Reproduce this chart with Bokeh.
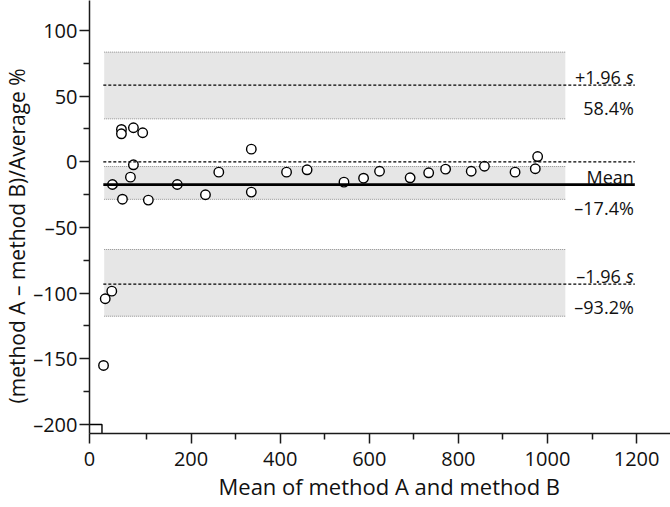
from bokeh.plotting import figure
from bokeh.models import FixedTicker, Range1d, Title
from bokeh.core.properties import value
from bokeh.embed import file_html
from bokeh.resources import INLINE

# ---- data ----
mean_ab = [3.5, 7.3, 22.0, 23.6, 43.7, 43.7, 46.0, 63.9, 70.6, 70.6,
           91.4, 104.1, 169.0, 232.3, 262.2, 335.2, 335.2, 414.3, 460.4, 543.2,
           587.2, 623.0, 691.7, 733.3, 771.3, 828.8, 858.5, 927.2, 972.6, 977.9]
pct_diff = [-155.1, -104.3, -98.5, -17.3, 24.6, 21.3, -28.5, -11.7, 25.9, -2.3,
            22.1, -29.2, -17.3, -25.1, -7.9, 9.6, -23.1, -7.9, -6.1, -15.5,
            -12.5, -7.2, -12.2, -8.4, -5.6, -7.2, -3.4, -7.9, -5.3, 4.0]

limit_values = [58.4, -17.4, -93.2]          # +1.96 s, mean, -1.96 s
limit_names = ["+1.96", "Mean", "–1.96"]
limit_has_s = [True, False, True]
limit_texts = ["58.4%", "–17.4%", "–93.2%"]
ci_low = [32.7, -28.6, -117.6]               # confidence bands (shaded)
ci_high = [83.5, -3.6, -66.8]
zero_line = 0

x_ticks = [200, 400, 600, 800, 1000, 1200]
x_minor = [100, 300, 500, 700, 900, 1100]
y_ticks = [-200, -150, -100, -50, 0, 50, 100]
y_minor = [-175, -125, -75, -25, 25, 75]

x_title = "Mean of method A and method B"
y_title = "(method A – method B)/Average %"

# ---- layout constants ----
X0, X1 = -28, 1276.1
Y0, Y1 = -206.9, 122.8
LINE_X = (3, 1196)
BAND_X = (5, 1040)
FONT = "Open Sans"

p = figure(width=670, height=507, output_backend="svg", toolbar_location=None,
           x_range=Range1d(X0, X1), y_range=Range1d(Y0, Y1),
           min_border_left=87, min_border_right=0, min_border_top=0,
           min_border_bottom=74)
p.outline_line_color = None
p.grid.visible = False
p.background_fill_color = "white"

# shaded bands
p.quad(left=[BAND_X[0]] * 3, right=[BAND_X[1]] * 3, bottom=ci_low, top=ci_high,
       fill_color="#e6e6e6", line_color=None)
edges = ci_low + ci_high
p.segment(x0=[BAND_X[0]] * 6, x1=[BAND_X[1]] * 6, y0=edges, y1=edges,
          line_color="#8c8c8c", line_width=1, line_dash="1 1")

# points
p.scatter(mean_ab, pct_diff, size=9.5, marker="circle", fill_color="white",
          line_color="black", line_width=1.4)

# dashed lines: zero and limits of agreement
dash_y = [zero_line, limit_values[0], limit_values[2]]
p.segment(x0=[LINE_X[0]] * 3, x1=[LINE_X[1]] * 3, y0=dash_y, y1=dash_y,
          line_color="black", line_width=1.3, line_dash="3 2")
# mean line
p.line([LINE_X[0], LINE_X[1]], [limit_values[1]] * 2, line_color="black",
       line_width=2.7)

# labels at right
common = dict(text_font=value(FONT), text_font_size="18px", text_color="#111111",
              text_align="right", text_baseline="alphabetic")
name_off = [-14 if s else -1 for s in limit_has_s]
p.text(x=[LINE_X[1]] * 3, y=limit_values, text=limit_names, x_offset=name_off,
       y_offset=-8, **common)
s_idx = [i for i, s in enumerate(limit_has_s) if s]
p.text(x=[LINE_X[1]] * len(s_idx), y=[limit_values[i] for i in s_idx],
       text=["s"] * len(s_idx), x_offset=-1, y_offset=-8, text_font_style="italic",
       **common)
p.text(x=[LINE_X[1]] * 3, y=limit_values, text=limit_texts, x_offset=-1,
       y_offset=23, **common)

# corner box
p.line([X0, 0, 0], [-200, -200, Y0], line_color="black", line_width=1.4)

# axes
for ax in (p.xaxis[0], p.yaxis[0]):
    ax.axis_line_color = "#1a1a1a"
    ax.axis_line_width = 1.5
    ax.major_tick_line_color = "#1a1a1a"
    ax.major_tick_line_width = 1.5
    ax.minor_tick_line_color = "#1a1a1a"
    ax.minor_tick_line_width = 1.5
    ax.major_tick_out = 10
    ax.major_tick_in = 0
    ax.minor_tick_out = 6
    ax.minor_tick_in = 0
    ax.major_label_text_font = FONT
    ax.major_label_text_font_size = "20px"
    ax.major_label_text_color = "#111111"

p.xaxis.ticker = FixedTicker(ticks=[X0] + x_ticks, minor_ticks=x_minor)
p.xaxis.major_label_overrides = {X0: "0", **{t: str(t) for t in x_ticks}}
p.xaxis.major_label_standoff = 8
p.yaxis.ticker = FixedTicker(ticks=y_ticks, minor_ticks=y_minor)
p.yaxis.major_label_overrides = {t: str(t).replace("-", "–") for t in y_ticks}
p.yaxis.major_label_standoff = 2

# axis titles (as side titles so they can be offset like the reference)
p.add_layout(Title(text=x_title, text_font=FONT, text_font_size="22px",
                   text_font_style="normal", text_color="#111111",
                   align="left", offset=129, standoff=0), "below")
p.add_layout(Title(text=y_title, text_font=FONT, text_font_size="21px",
                   text_font_style="normal", text_color="#111111",
                   align="left", offset=30, standoff=0), "left")

open("out.html", "w").write(file_html(p, INLINE))
